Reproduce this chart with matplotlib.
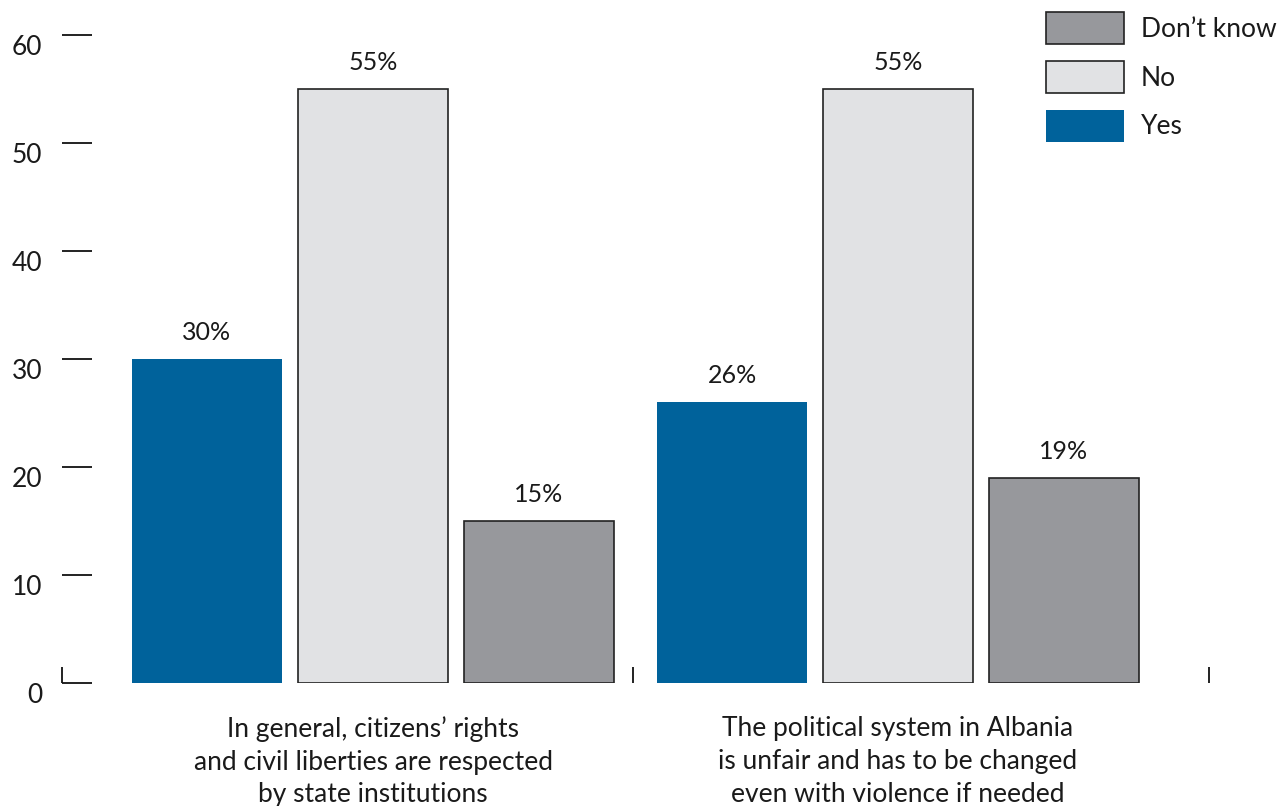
import numpy as np
import matplotlib
matplotlib.use("Agg")
import matplotlib.pyplot as plt

plt.rcParams['font.family'] = ['Lato', 'DejaVu Sans']
plt.rcParams['text.color'] = '#1a1a1a'
plt.rcParams['ytick.labelcolor'] = '#1a1a1a'
plt.rcParams['xtick.labelcolor'] = '#1a1a1a'

categories = ["In general, citizens\u2019 rights\nand civil liberties are respected\nby state institutions",
              "The political system in Albania\nis unfair and has to be changed\neven with violence if needed"]
series = ["Yes", "No", "Don\u2019t know"]
values = {
    "Yes": [30, 26],
    "No": [55, 55],
    "Don\u2019t know": [15, 19],
}
colors = {"Yes": "#00629b", "No": "#e1e2e4", "Don\u2019t know": "#97989c"}
edges = {"Yes": "none", "No": "#222222", "Don\u2019t know": "#222222"}
yticks = [0, 10, 20, 30, 40, 50, 60]

fig = plt.figure(figsize=(12.85, 8.06), dpi=100)
ax = fig.add_axes([62 / 1285, 123 / 806, 1147 / 1285, 648 / 806])

group_x = np.array([0, 3.5])
step = 166 / 150
handles = {}
for i, s in enumerate(series):
    xs = group_x + (i - 1) * step
    bars = ax.bar(xs, values[s], width=1.0, color=colors[s], edgecolor=edges[s],
                  linewidth=1.2, label=s)
    handles[s] = bars
    for x, v in zip(xs, values[s]):
        ax.annotate(f"{v}%", (x, v), xytext=(0, 11), textcoords="offset points",
                    ha="center", va="bottom", fontsize=18)

ax.set_ylim(0, 60)
ax.set_xlim(-311 / 150, group_x[1] + 836 / 150 - 3.5)
ax.set_yticks(yticks)
ax.set_yticklabels([str(t) for t in yticks], fontsize=19)
for lab in ax.get_yticklabels():
    lab.set_verticalalignment("top")
ax.tick_params(axis="y", direction="in", length=21.5, width=1.3, pad=14, color="#111111")

sep = [ax.get_xlim()[0], 260 / 150, ax.get_xlim()[1]]
ax.set_xticks(sep)
ax.set_xticklabels(["", "", ""])
ax.tick_params(axis="x", which="major", direction="in", length=11.5, width=1.3, color="#111111")
ax.set_xticks(group_x, minor=True)
ax.set_xticklabels(categories, minor=True, fontsize=19, linespacing=1.38)
ax.tick_params(axis="x", which="minor", length=0, pad=24)

for sp in ax.spines.values():
    sp.set_visible(False)

order = ["Don\u2019t know", "No", "Yes"]
fig.legend([handles[s] for s in order], order, loc="upper left",
           bbox_to_anchor=(1046 / 1285, 1 - 12 / 806), frameon=False,
           borderpad=0, borderaxespad=0, fontsize=19, handlelength=2.95,
           handleheight=1.5, labelspacing=0.63, handletextpad=0.65)

fig.savefig("out.png", dpi=100)
